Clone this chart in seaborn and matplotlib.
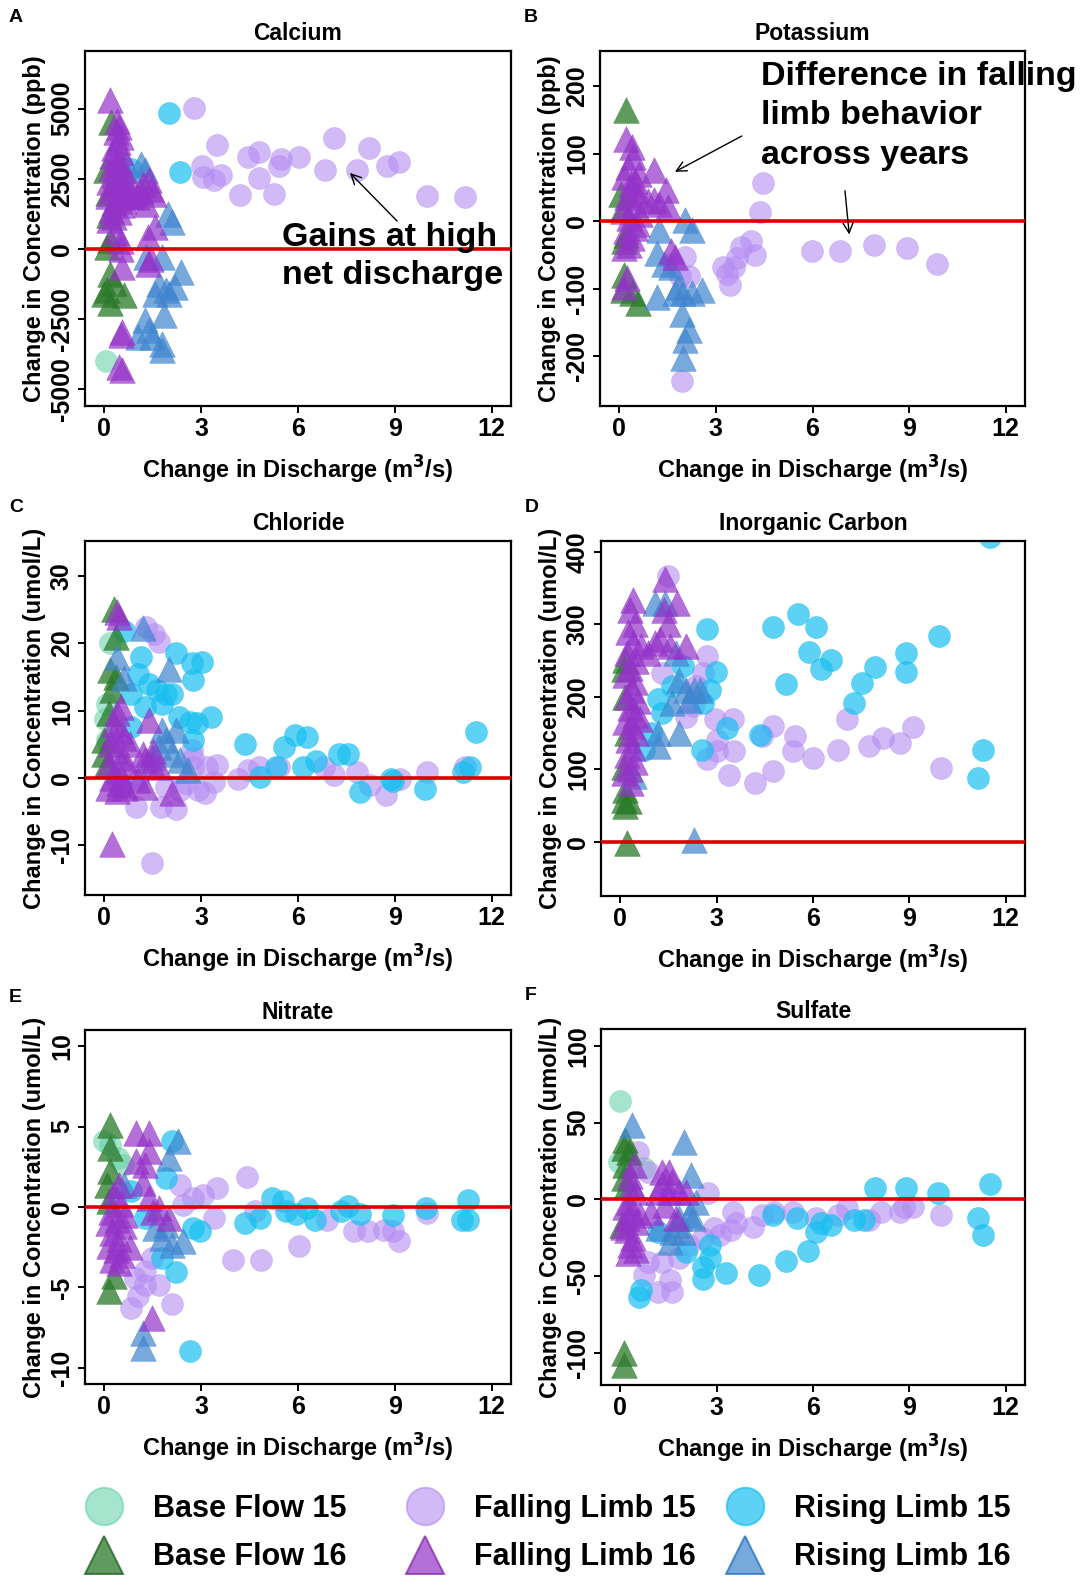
import matplotlib
matplotlib.use("Agg")
import matplotlib.pyplot as plt
import pandas as pd
import seaborn as sns
from matplotlib.lines import Line2D

# ---------------------------------------------------------------------------
# Data: (change in discharge, change in concentration) per hydrograph stage
# ---------------------------------------------------------------------------
group_labels = ["Base Flow 15", "Base Flow 16", "Falling Limb 15",
                "Falling Limb 16", "Rising Limb 15", "Rising Limb 16"]

# Calcium (ppb)
calcium_bf15 = [(0.06, -3980)]
calcium_bf16 = [(0.2, 4510), (0.17, 310), (0.08, 70), (0.19, -880), (0.08, -1470), (0.62, -1650),
                (0.19, -1940), (0.0, -1590), (0.3, -1200), (0.1, 2000), (0.15, 1200), (0.05, 2800)]
calcium_fl15 = [(2.78, 5025), (3.02, 2950), (3.07, 2560), (3.5, 3720), (3.6, 2620), (3.41, 2440),
                (4.19, 1910), (4.44, 3270), (4.8, 3450), (4.78, 2520), (5.26, 1970), (5.47, 3210),
                (5.42, 2970), (6.04, 3290), (6.84, 2800), (7.1, 3960), (7.82, 2820), (8.19, 3590),
                (8.75, 2940), (9.13, 3090), (10.0, 1870), (11.16, 1850), (0.5, 2500), (1.0, 1800)]
calcium_fl16 = [(0.19, 5290), (0.4, 4570), (0.45, 4350), (0.35, 4150), (0.5, 4000), (0.42, 3800),
                (0.3, 3600), (0.5, 3450), (0.25, 3300), (0.4, 3100), (0.2, 2900), (0.55, 2800),
                (0.3, 2650), (0.45, 2500), (0.15, 2400), (0.35, 2300), (0.6, 2200), (0.25, 2100),
                (0.5, 2000), (0.1, 1900), (0.4, 1800), (0.3, 1650), (0.55, 1550), (0.2, 1400),
                (0.45, 1300), (0.3, 1150), (0.15, 1050), (0.6, 1700), (0.7, 1900), (0.8, 2000),
                (0.35, 600), (0.5, 300), (0.55, -640), (0.51, 0), (0.55, -2950), (0.5, -3050),
                (0.55, -4310), (0.45, -4200), (1.0, 1850), (1.14, 2050), (1.3, 1610), (1.37, 2440),
                (1.46, 2140), (1.53, 1970), (1.2, 2300), (1.56, 780), (1.35, 430), (1.35, -520),
                (1.45, -350), (0.85, 1900), (0.7, 2600)]
calcium_rl15 = [(2.0, 4835), (2.35, 2740), (0.83, 2860), (0.55, 2400)]
calcium_rl16 = [(1.14, 3030), (1.98, 1260), (2.09, 960), (1.79, -280), (2.38, -820), (1.69, -1230),
                (1.9, -1470), (2.2, -1350), (1.58, -1590), (2.0, -1590), (1.26, -2540), (1.85, -2360),
                (1.04, -3130), (1.47, -3130), (1.79, -3370), (1.79, -3600), (1.37, -2890), (1.3, -300),
                (0.65, 3100), (1.25, 2800)]

# Potassium (ppb)
potassium_bf15 = []
potassium_bf16 = [(0.22, 164), (0.16, -80), (0.11, -102), (0.38, -107), (0.59, -122), (0.1, 20),
                  (0.15, -30), (0.05, 40), (0.2, -20)]
potassium_fl15 = [(4.47, 57), (4.36, 13), (4.09, -29), (3.77, -38), (4.2, -50), (3.23, -68),
                  (3.55, -68), (3.66, -55), (3.34, -78), (3.44, -95), (5.97, -45), (6.84, -45),
                  (7.91, -36), (8.93, -40), (9.88, -64), (1.94, -237), (2.05, -53), (1.88, -82),
                  (2.15, -82), (1.67, -63)]
potassium_fl16 = [(0.22, 122), (0.38, 110), (0.43, 95), (0.27, 80), (0.15, 65), (0.35, 55),
                  (0.5, 45), (0.25, 35), (0.45, 25), (0.1, 15), (0.3, 5), (0.55, -5), (0.2, -15),
                  (0.4, -25), (0.3, -35), (0.5, 60), (0.6, 40), (0.65, 10), (0.15, -40), (1.08, 75),
                  (1.45, 46), (1.08, 31), (1.51, 21), (1.24, 26), (0.9, 30), (1.72, -53), (1.6, -45),
                  (0.16, -97), (0.25, -85), (0.5, -10), (0.6, 70)]
potassium_rl15 = []
potassium_rl16 = [(2.05, 1), (2.26, -13), (1.24, -13), (1.18, -48), (1.4, -63), (1.61, -68),
                  (1.83, -97), (1.99, -107), (1.18, -112), (2.26, -107), (2.58, -102), (1.94, -137),
                  (2.15, -161), (2.05, -176), (1.99, -203), (1.72, -107)]

# Chloride (umol/L)
chloride_bf15 = [(0.09, 11.0), (0.03, 8.8), (0.19, 20.0), (0.09, 5.6)]
chloride_bf16 = [(0.3, 25.1), (0.35, 20.9), (0.19, 16.0), (0.35, 15.0), (0.25, 13.0), (0.14, 9.6),
                 (-0.02, 5.6), (-0.02, 3.6), (0.09, 2.1)]
chloride_fl15 = [(1.47, -12.6), (0.99, -4.3), (1.74, -4.3), (2.22, -4.6), (1.53, 21.4), (1.7, 20.2),
                 (1.28, 22.4), (3.12, -2.3), (3.5, 1.9), (3.18, 1.6), (3.39, -0.6), (4.14, -0.1),
                 (4.46, 1.1), (4.78, 1.6), (5.42, 1.6), (6.81, 1.6), (7.13, 0.4), (7.82, 0.9),
                 (8.24, -1.1), (8.72, -2.6), (9.15, -0.1), (10.0, 0.9), (11.18, 1.6), (2.7, 4.1),
                 (2.54, -0.8), (2.9, -1.8), (2.75, 1.6), (2.33, -1.8), (1.9, -1.3), (1.05, -0.3),
                 (0.51, -1.3), (2.75, 2.9)]
chloride_fl16 = [(0.25, -9.8), (0.4, 24.7), (0.46, 23.9), (0.4, 9.6), (0.3, 8.0), (0.5, 7.0),
                 (0.6, 6.0), (0.2, 5.0), (0.35, 4.0), (0.55, 3.0), (0.15, 2.0), (0.45, 1.0),
                 (0.25, 0.0), (0.6, -1.0), (0.1, -1.5), (0.4, -2.0), (0.7, 2.0), (0.8, 5.0),
                 (0.5, 10.5), (0.3, 6.5), (1.37, 8.6), (1.26, 2.6), (1.47, 2.1), (1.7, 1.6),
                 (1.05, -0.3), (1.26, -1.3), (2.11, -2.3), (0.46, -0.8), (1.5, 4.0), (1.2, 3.5),
                 (0.65, -1.5)]
chloride_rl15 = [(11.5, 6.8), (11.34, 1.6), (11.12, 0.9), (9.95, -1.6), (8.94, -0.5), (8.88, -0.1),
                 (7.92, -2.1), (7.55, 3.6), (7.28, 3.6), (6.57, 2.5), (6.27, 6.1), (5.9, 6.3),
                 (5.58, 4.6), (6.14, 1.6), (5.31, 1.6), (4.83, 0.1), (4.37, 5.1), (3.31, 9.1),
                 (2.86, 8.1), (2.65, 8.3), (2.75, 5.6), (3.02, 17.2), (2.7, 17.0), (2.75, 14.5),
                 (2.22, 18.5), (1.9, 12.5), (1.8, 11.0), (1.64, 13.0), (1.38, 14.0), (1.15, 18.0),
                 (1.26, 10.5), (1.05, 15.5), (0.62, 21.9), (0.83, 12.5), (0.83, 7.6), (2.11, 12.5),
                 (2.3, 9.1)]
chloride_rl16 = [(1.2, 22.2), (0.4, 18.0), (0.62, 14.8), (2.0, 16.2), (1.79, 7.1), (2.22, 7.1),
                 (1.9, 5.6), (1.7, 4.6), (2.11, 3.6), (2.33, 2.6), (1.47, 3.1), (2.59, 1.1)]

# Inorganic carbon (umol/L)
carbon_bf15 = []
carbon_bf16 = [(0.22, -1), (0.16, 251), (0.11, 238), (0.16, 72), (0.11, 58), (0.27, 56), (0.16, 49),
               (0.11, 104), (0.15, 200), (0.2, 150)]
carbon_fl15 = [(1.49, 367), (2.69, 256), (2.58, 233), (2.96, 169), (3.01, 141), (3.01, 125),
               (2.69, 114), (3.5, 169), (3.55, 125), (3.38, 93), (4.2, 81), (4.4, 146), (4.76, 160),
               (4.76, 98), (5.43, 146), (5.38, 125), (6.0, 116), (6.78, 127), (7.05, 169),
               (7.74, 132), (8.18, 143), (8.71, 136), (9.1, 158), (10.0, 102), (2.26, 187),
               (2.05, 173), (2.37, 215), (1.29, 233)]
carbon_fl16 = [(0.41, 334), (0.3, 320), (0.45, 300), (0.25, 290), (0.4, 275), (0.2, 260), (0.5, 250),
               (0.3, 240), (0.15, 230), (0.45, 220), (0.35, 210), (0.2, 200), (0.55, 195), (0.3, 185),
               (0.45, 175), (0.15, 165), (0.35, 160), (0.5, 150), (0.25, 140), (0.4, 130), (0.2, 120),
               (0.45, 110), (0.3, 100), (0.11, 95), (0.32, 81), (0.6, 170), (1.4, 362), (1.78, 330),
               (1.35, 320), (1.08, 274), (1.56, 270), (2.05, 270), (0.65, 270), (1.25, 280),
               (1.5, 300), (0.85, 260)]
carbon_rl15 = [(11.52, 420), (11.3, 127), (11.14, 88), (9.92, 284), (8.88, 261), (8.88, 235),
               (7.94, 241), (7.53, 219), (7.27, 191), (6.55, 251), (6.24, 238), (6.08, 296),
               (5.86, 262), (5.54, 314), (4.76, 297), (5.17, 218), (4.34, 147), (3.32, 157),
               (2.98, 235), (2.8, 210), (2.69, 294), (2.53, 127), (2.58, 192), (1.29, 178),
               (0.97, 150), (0.75, 127), (1.18, 197), (1.94, 242), (1.61, 215)]
carbon_rl16 = [(2.31, 3), (1.08, 330), (1.4, 330), (1.72, 261), (1.83, 224), (2.05, 210), (2.31, 210),
               (1.61, 192), (1.18, 150), (1.83, 150), (1.18, 132), (2.48, 210), (2.15, 196), (0.43, 91)]

# Nitrate (umol/L)
nitrate_bf15 = [(-0.02, 4.08), (0.41, 3.04), (0.19, 3.87), (0.57, 2.63)]
nitrate_bf16 = [(0.19, 5.11), (0.17, 3.66), (0.19, 2.22), (0.14, 0.35), (0.3, -4.31), (0.14, -5.24),
                (0.09, 1.39)]
nitrate_fl15 = [(4.43, 1.84), (6.04, -2.44), (3.98, -3.27), (4.86, -3.27), (7.74, -1.51), (8.17, -1.51),
                (8.67, -1.41), (9.12, -2.13), (10.0, -0.37), (3.5, 1.18), (3.39, -0.68), (4.67, -0.27),
                (6.91, -0.79), (0.83, -6.27), (1.05, -5.55), (1.26, -4.82), (1.7, -4.82), (2.11, -6.02),
                (0.94, -4.41), (1.26, -4.0), (1.47, -3.17), (2.33, 1.39), (2.75, 0.56), (3.07, 0.77),
                (2.43, 0.14), (8.94, -1.51)]
nitrate_fl16 = [(0.99, 4.6), (1.37, 4.6), (1.37, 3.46), (0.99, 2.84), (1.26, 2.63), (1.47, -6.89),
                (0.46, 1.39), (0.3, 0.8), (0.5, 0.2), (0.2, -0.3), (0.4, -0.8), (0.6, -1.2),
                (0.25, -1.6), (0.45, -2.0), (0.15, -2.4), (0.35, -2.7), (0.55, -3.0), (0.25, -3.3),
                (0.45, -3.5), (0.65, -0.5), (0.1, -1.0), (1.37, 0.56), (1.7, -0.06), (2.0, -0.68),
                (1.2, 1.5), (1.5, -0.3), (0.8, -2.5)]
nitrate_rl15 = [(11.28, 0.46), (11.07, -0.79), (11.28, -0.79), (9.97, -0.06), (8.94, -0.48),
                (7.92, -0.43), (7.55, 0.04), (7.34, -0.27), (6.54, -0.79), (6.27, -0.06), (5.95, -0.43),
                (5.63, -0.27), (5.2, 0.56), (5.52, 0.35), (4.83, -0.68), (4.35, -0.99), (2.97, -1.51),
                (2.75, -1.3), (2.65, -8.96), (2.22, -4.04), (2.11, 4.08), (1.9, 1.8), (1.79, -3.17),
                (0.83, 0.97), (1.26, -0.68)]
nitrate_rl16 = [(2.27, 4.08), (2.0, 3.04), (1.2, -7.83), (1.2, -8.76), (1.79, -1.93), (2.11, -2.34),
                (2.43, -2.13), (1.58, -1.3), (1.9, -1.1), (0.62, 1.39)]

# Sulfate (umol/L)
sulfate_bf15 = [(0.0, 64.1), (-0.05, 24.6), (0.75, 20.2)]
sulfate_bf16 = [(0.16, 38.7), (0.11, 33.3), (0.27, 31.1), (0.16, 22.4), (0.11, 13.7), (0.11, -100.4),
                (0.11, -108.0), (0.22, 9.3), (0.05, -16.7)]
sulfate_fl15 = [(2.74, 3.9), (3.5, -8.0), (3.61, -15.7), (3.44, -20.0), (4.14, -17.8), (4.41, -10.2),
                (4.79, -8.0), (5.38, -8.0), (6.08, -12.4), (6.78, -10.2), (7.05, -5.9), (7.74, -13.5),
                (8.12, -8.0), (8.71, -8.0), (9.1, -4.8), (10.0, -10.2), (8.82, -4.8), (1.61, -60.2),
                (1.18, -60.2), (1.56, -52.6), (0.75, -49.3), (0.86, -40.7), (1.29, -40.7),
                (1.83, -38.5), (2.15, -29.8), (2.58, -25.4), (2.91, -18.9), (3.12, -23.3),
                (0.54, 31.0), (0.86, 18.0)]
sulfate_fl16 = [(0.43, 22.4), (0.38, 9.3), (0.27, -1.5), (0.22, -12.4), (0.3, 15.0), (0.45, 5.0),
                (0.15, -5.0), (0.35, -8.0), (0.5, -15.0), (0.2, -20.0), (0.4, -25.0), (0.3, -30.0),
                (0.5, -33.0), (0.25, -35.0), (0.6, -10.0), (0.1, -18.0), (1.29, 18.0), (1.51, 18.0),
                (1.18, 5.0), (1.51, 5.0), (1.4, -3.7), (1.83, 5.0), (2.05, 5.0), (1.72, -12.4),
                (0.97, -8.0), (1.3, 10.0), (1.6, 12.0)]
sulfate_rl15 = [(11.52, 9.8), (11.14, -12.0), (11.3, -23.3), (9.9, 3.9), (8.88, 7.6), (7.94, 7.6),
                (7.59, -13.5), (7.27, -13.5), (6.57, -16.7), (6.24, -15.7), (6.08, -21.1),
                (5.85, -33.5), (5.17, -40.2), (5.49, -12.4), (4.31, -49.3), (3.3, -48.3),
                (2.58, -52.0), (2.58, -43.9), (2.8, -38.5), (2.8, -29.8), (0.59, -63.5),
                (0.65, -59.0), (2.05, -34.1), (1.18, -21.1), (4.74, -10.2)]
sulfate_rl16 = [(0.38, 48.5), (1.99, 37.6), (2.2, 15.9), (2.37, -1.5), (1.83, -12.4), (2.15, -10.2),
                (1.61, -21.1), (1.94, -21.1), (2.26, -12.4), (1.18, -18.9), (1.78, -16.7),
                (1.56, -27.6)]

panel_titles = ["Calcium", "Potassium", "Chloride", "Inorganic Carbon", "Nitrate", "Sulfate"]
panel_letters = ["A", "B", "C", "D", "E", "F"]
panel_units = ["ppb", "ppb", "umol/L", "umol/L", "umol/L", "umol/L"]
panel_ylims = [(-5590, 7050), (-274, 252), (-17.4, 35.2), (-74.5, 415), (-11.0, 11.0), (-121, 111)]
panel_yticks = [[-5000, -2500, 0, 2500, 5000], [-200, -100, 0, 100, 200], [-10, 0, 10, 20, 30],
                [0, 100, 200, 300, 400], [-10, -5, 0, 5, 10], [-100, -50, 0, 50, 100]]
x_ticks = [0, 3, 6, 9, 12]

panel_series = [
    [calcium_bf15, calcium_bf16, calcium_fl15, calcium_fl16, calcium_rl15, calcium_rl16],
    [potassium_bf15, potassium_bf16, potassium_fl15, potassium_fl16, potassium_rl15, potassium_rl16],
    [chloride_bf15, chloride_bf16, chloride_fl15, chloride_fl16, chloride_rl15, chloride_rl16],
    [carbon_bf15, carbon_bf16, carbon_fl15, carbon_fl16, carbon_rl15, carbon_rl16],
    [nitrate_bf15, nitrate_bf16, nitrate_fl15, nitrate_fl16, nitrate_rl15, nitrate_rl16],
    [sulfate_bf15, sulfate_bf16, sulfate_fl15, sulfate_fl16, sulfate_rl15, sulfate_rl16],
]

# ---------------------------------------------------------------------------
# Styling
# ---------------------------------------------------------------------------
sns.set_theme(style="white")
plt.rcParams["font.family"] = ["Liberation Sans", "DejaVu Sans"]
plt.rcParams["font.weight"] = "bold"
plt.rcParams["axes.labelweight"] = "bold"
plt.rcParams["axes.titleweight"] = "bold"
plt.rcParams["axes.unicode_minus"] = False
for key in ["text.color", "axes.labelcolor", "xtick.color", "ytick.color", "axes.edgecolor"]:
    plt.rcParams[key] = "black"

group_style = {
    "Base Flow 15":    dict(color="#5fcfa5", marker="o", alpha=0.55, edge="none"),
    "Base Flow 16":    dict(color="#2a7a2a", marker="^", alpha=0.75, edge="#1b5e20"),
    "Falling Limb 15": dict(color="#b48cf2", marker="o", alpha=0.60, edge="none"),
    "Falling Limb 16": dict(color="#9433c9", marker="^", alpha=0.70, edge="#7b1fa2"),
    "Rising Limb 15":  dict(color="#19bff0", marker="o", alpha=0.70, edge="none"),
    "Rising Limb 16":  dict(color="#3f85cf", marker="^", alpha=0.70, edge="#1565c0"),
}
draw_order = ["Base Flow 15", "Falling Limb 15", "Rising Limb 15",
              "Base Flow 16", "Rising Limb 16", "Falling Limb 16"]

W, H = 1084, 1576
fig = plt.figure(figsize=(W / 100, H / 100), dpi=100)

# axes boxes in pixels: left, top, right, bottom
boxes = [(85, 51, 511, 406), (600, 51, 1025, 406),
         (85, 541, 511, 895), (601, 541, 1025, 896),
         (85, 1030, 511, 1384), (601, 1029, 1025, 1385)]

axes = []
for i, (l, t, r, b) in enumerate(boxes):
    ax = fig.add_axes([l / W, 1 - b / H, (r - l) / W, (b - t) / H])
    axes.append(ax)
    records = []
    for label, pts in zip(group_labels, panel_series[i]):
        for x, y in pts:
            records.append({"discharge": x, "conc": y, "group": label})
    df = pd.DataFrame(records)
    for label in draw_order:
        sub = df[df["group"] == label]
        if sub.empty:
            continue
        st = group_style[label]
        size = 250 if st["marker"] == "o" else 340
        sns.scatterplot(data=sub, x="discharge", y="conc", ax=ax, color=st["color"],
                        marker=st["marker"], s=size, alpha=st["alpha"],
                        edgecolor=st["color"], linewidth=0.4, legend=False, zorder=2)
    ax.axhline(0, color="#dd0000", lw=2.6, zorder=3)
    ax.set_xlim(-0.6, 12.6)
    ax.set_ylim(*panel_ylims[i])
    ax.set_xticks(x_ticks)
    ax.set_yticks(panel_yticks[i])
    for s in ax.spines.values():
        s.set_color("black")
        s.set_linewidth(1.6)
    ax.tick_params(axis="both", which="major", direction="out", length=5, width=1.4,
                   color="black", labelcolor="black", labelsize=18, pad=3,
                   bottom=True, left=True)
    for lab in ax.get_yticklabels():
        lab.set_rotation(90)
        lab.set_va("center")
        lab.set_fontweight("bold")
    for lab in ax.get_xticklabels():
        lab.set_fontweight("bold")
    ax.set_xlabel("Change in Discharge (m$^\\mathbf{3}$/s)", fontsize=17, fontweight="bold",
                  labelpad=9, color="black")
    ax.set_ylabel(f"Change in Concentration ({panel_units[i]})", fontsize=17,
                  fontweight="bold", labelpad=3, color="black")
    ax.set_title(panel_titles[i], fontsize=16.5, fontweight="bold", pad=8, color="black")
    fig.text((l - 76) / W, 1 - (t - 33) / H, panel_letters[i], fontsize=14,
             fontweight="bold", ha="left", va="center")

# annotations
axA, axB = axes[0], axes[1]
axA.annotate("", xy=(7.55, 2780), xytext=(9.13, 925),
             arrowprops=dict(arrowstyle="->", color="black", lw=1.0, mutation_scale=18))
axA.text(5.5, -280, "Gains at high\nnet discharge", fontsize=24.5, fontweight="bold",
         ha="left", va="center", linespacing=1.3, zorder=5)
axB.annotate("", xy=(1.65, 71), xytext=(3.88, 128),
             arrowprops=dict(arrowstyle="->", color="black", lw=1.0, mutation_scale=18))
axB.annotate("", xy=(7.15, -24), xytext=(7.0, 49),
             arrowprops=dict(arrowstyle="->", color="black", lw=1.0, mutation_scale=18))
axB.text(4.4, 156, "Difference in falling\nlimb behavior\nacross years", fontsize=24.5,
         fontweight="bold", ha="left", va="center", linespacing=1.35, zorder=5, clip_on=False)

# legend, one column per hydrograph stage
col_left = [84, 405, 725]
for c in range(3):
    handles = []
    labels = []
    for label in group_labels[2 * c:2 * c + 2]:
        st = group_style[label]
        ms = 27 if st["marker"] == "o" else 28
        edge = st["color"] if st["edge"] == "none" else st["edge"]
        handles.append(Line2D([], [], linestyle="", marker=st["marker"], markersize=ms,
                              markerfacecolor=st["color"], markeredgecolor=edge,
                              markeredgewidth=1.4, alpha=st["alpha"]))
        labels.append(label)
    fig.legend(handles, labels, loc="upper left", bbox_to_anchor=(col_left[c] / W, 1 - 1494 / H),
               frameon=False, handlelength=1.3, handletextpad=0.95,
               labelspacing=0.6, borderpad=0, borderaxespad=0,
               prop={"family": ["Liberation Sans", "DejaVu Sans"],
                     "weight": "bold", "size": 22})

fig.savefig("out.png", dpi=100, facecolor="white")
